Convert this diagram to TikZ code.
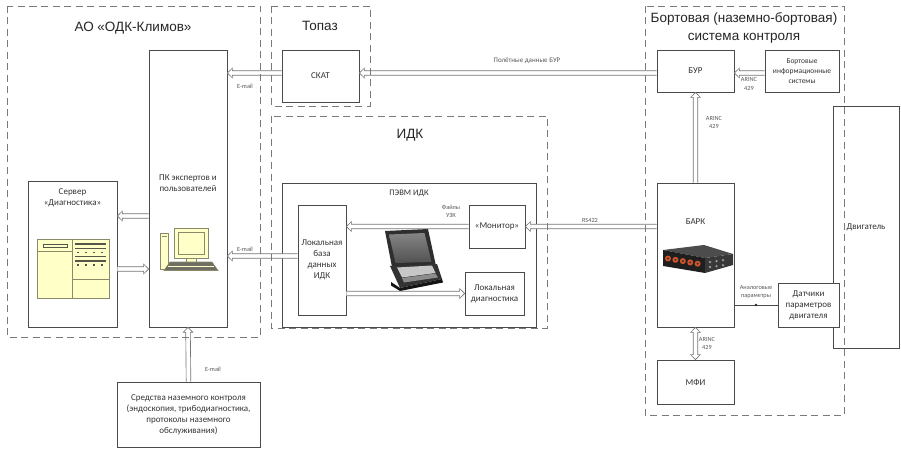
\documentclass[tikz,border=0pt]{standalone}
\usepackage{fontspec}
\setmainfont{Carlito}
\newfontfamily\titlefont{Liberation Sans}
\usetikzlibrary{calc}

\definecolor{edgegray}{HTML}{4A4A4A}
\definecolor{dashgray}{HTML}{7A7A7A}
\definecolor{arrowgray}{HTML}{767676}
\definecolor{iconfill}{HTML}{FFFFC8}
\definecolor{iconline}{HTML}{8A8A6A}
\definecolor{icondark}{HTML}{55554A}
\definecolor{plugorange}{HTML}{D0532A}

% hollow block arrow from #1 to #2 (head at #2)
\newcommand\hollowarrow[2]{%
  \path[harrow] let \p1=(#1), \p2=(#2), \n1={atan2(\y2-\y1,\x2-\x1)} in
    ($(\p1)+(\n1+90:2.3pt)$)
    -- ($(\p2)+(\n1+180:5pt)+(\n1+90:2.3pt)$)
    -- ($(\p2)+(\n1+180:5pt)+(\n1+90:4.8pt)$)
    -- (\p2)
    -- ($(\p2)+(\n1+180:5pt)+(\n1-90:4.8pt)$)
    -- ($(\p2)+(\n1+180:5pt)+(\n1-90:2.3pt)$)
    -- ($(\p1)+(\n1-90:2.3pt)$);}
% hollow block arrow with heads at both ends
\newcommand\hollowdarrow[2]{%
  \path[harrow] let \p1=(#1), \p2=(#2), \n1={atan2(\y2-\y1,\x2-\x1)} in
    (\p1)
    -- ($(\p1)+(\n1:5pt)+(\n1+90:4.8pt)$)
    -- ($(\p1)+(\n1:5pt)+(\n1+90:2.3pt)$)
    -- ($(\p2)+(\n1+180:5pt)+(\n1+90:2.3pt)$)
    -- ($(\p2)+(\n1+180:5pt)+(\n1+90:4.8pt)$)
    -- (\p2)
    -- ($(\p2)+(\n1+180:5pt)+(\n1-90:4.8pt)$)
    -- ($(\p2)+(\n1+180:5pt)+(\n1-90:2.3pt)$)
    -- ($(\p1)+(\n1:5pt)+(\n1-90:2.3pt)$)
    -- ($(\p1)+(\n1:5pt)+(\n1-90:4.8pt)$)
    -- cycle;}

\begin{document}
\begin{tikzpicture}[x=1pt,y=-1pt,
  box/.style={draw=edgegray, line width=0.7pt, inner sep=1pt, align=center,
    font=\fontsize{9}{11}\selectfont, text=black!80},
  txt/.style={inner sep=0pt, align=center, font=\fontsize{9}{11}\selectfont, text=black!80},
  smalltxt/.style={inner sep=0pt, align=center, font=\fontsize{6.3}{8.6}\selectfont, text=black!65},
  title/.style={inner sep=0pt, align=center, font=\titlefont\fontsize{13.5}{18}\selectfont, text=black!85},
  region/.style={draw=dashgray, line width=0.9pt, dash pattern=on 7pt off 4.5pt},
  harrow/.style={draw=arrowgray, fill=white, line width=0.65pt, line join=miter},
  icon/.style={draw=iconline, fill=iconfill, line width=0.6pt},
  iconbar/.style={draw=icondark, line width=1.1pt},
]
\useasboundingbox (0,0) rectangle (901,449);
\fill[white] (0,0) rectangle (901,449);

% ---------- АО «ОДК-Климов» ----------
\node[box, minimum width=78, minimum height=277] (pk) at (188,188.5) {};
\node[txt] (pktext) at (188,183.5) {ПК экспертов и\\пользователей};
\node[box, minimum width=89, minimum height=146] (server) at (72.5,254) {};
\node[txt] (servertext) at (72.5,197.5) {Сервер\\«Диагностика»};
\node[box, minimum width=143, minimum height=65] (ground) at (188.5,414.5)
  {Средства наземного контроля\\(эндоскопия, трибодиагностика,\\протоколы наземного\\обслуживания)};

% server window icon
\draw[icon] (37,239) rectangle (109,298);
\draw[icon] (72,239) -- (72,298);
\draw[icon] (37,251) -- (72,251);
\draw[draw=icondark, fill=iconfill, line width=0.5pt] (43,244) rectangle (67,247);
\draw[icon] (72,279) -- (109,279);
\draw[iconbar] (75,244) -- (106,244);
\draw[iconbar] (75,248.5) -- (106,248.5);
\draw[iconbar] (75,256.5) -- (106,256.5);
\draw[iconbar] (75,261) -- (106,261);
\foreach \x in {77,85,93,101} {
  \fill[icondark] (\x,251.5) rectangle ++(2.4,1.8);
  \fill[icondark] (\x,264) rectangle ++(2.4,1.8);
}

% desktop computer icon
\draw[icon] (160,233) rectangle (168,269);
\draw[iconline, line width=0.5pt] (161.5,236) -- (166.5,236);
\draw[icon] (174,228) rectangle (208,258);
\draw[icon] (178,232) rectangle (204,254);
\draw[icon] (186,258) rectangle (196,262);
\draw[draw=iconline, fill=icondark!85, line width=0.6pt]
  (170,262) -- (212,262) -- (218,270.5) -- (164,270.5) -- cycle;
\draw[draw=iconfill, line width=0.5pt] (168,266) -- (214,266);

% ---------- Топаз ----------
\node[box, minimum width=77, minimum height=52] (skat) at (320.5,76) {СКАТ};

% ---------- ИДК ----------
\node[box, minimum width=254, minimum height=144] (pevm) at (409,255) {};
\node[txt, font=\fontsize{8.5}{10}\selectfont] (pevmtext) at (409,193) {ПЭВМ ИДК};
\node[box, minimum width=48, minimum height=110] (lbase) at (322,260)
  {Локальная\\база\\данных\\ИДК};
\node[box, minimum width=56, minimum height=43] (monitor) at (497,226.5) {«Монитор»};
\node[box, minimum width=59, minimum height=43] (ldiag) at (494.5,293.5)
  {Локальная\\диагностика};

% rugged laptop
\fill[black!82] (385,231) -- (428,229) -- (436,266) -- (392,267) -- cycle;
\shade[top color=black!48, bottom color=black!68] (389,234.5) -- (424.5,233) -- (431.5,262) -- (395.5,263) -- cycle;
\fill[black!80] (390,266) -- (437,264) -- (442,279) -- (400,288) -- cycle;
\fill[black!22] (397,267.5) -- (432,265.5) -- (435.5,273) -- (402,277.5) -- cycle;
\fill[black!45] (402,278) -- (435.5,273.5) -- (438,277.5) -- (404,282.5) -- cycle;
\fill[black!92] (391,282) -- (400,288) -- (442,279) -- (443,282.5) -- (400,291) -- (391,285.5) -- cycle;

% ---------- Бортовая система ----------
\node[box, minimum width=77, minimum height=42] (bur) at (695.5,71) {БУР};
\node[box, minimum width=74, minimum height=42, font=\fontsize{7.5}{10}\selectfont] (bis) at (802,71)
  {Бортовые\\информационные\\системы};
\node[box, minimum width=66, minimum height=242] (engine) at (866,227) {Двигатель};
\node[box, minimum width=77, minimum height=144] (bark) at (695.5,255) {};
\node[txt] (barktext) at (695.5,222) {БАРК};
\node[box, minimum width=61, minimum height=44, fill=white] (sensors) at (808.5,305)
  {Датчики\\параметров\\двигателя};
\node[box, minimum width=77, minimum height=44] (mfi) at (695.5,382) {МФИ};

% recorder unit picture
\fill[black!70] (663,250) -- (704,245) -- (733,254) -- (705,258) -- cycle;
\fill[black!88] (663,250) -- (705,258) -- (705,273) -- (663,266) -- cycle;
\fill[black!78] (705,258) -- (733,254) -- (733,265) -- (705,273) -- cycle;
\foreach \i in {0,...,4} {
  \fill[plugorange] (668+7.4*\i,258.5+1.3*\i) circle (3);
  \fill[black!80] (668+7.4*\i,258.5+1.3*\i) circle (1.1);
}
\foreach \i in {0,1,2} {
  \fill[black!40] (710+6.5*\i,262-0.9*\i) circle (1.3);
  \fill[black!40] (710+6.5*\i,267-0.9*\i) circle (1.3);
}

% ---------- connectors ----------
\coordinate (row) at ([yshift=3pt]skat.west);
\hollowarrow{row}{pk.east |- row}
\hollowarrow{bur.west |- row}{skat.east |- row}
\hollowarrow{bis.west |- row}{bur.east |- row}
\hollowarrow{bark.north}{bur.south}

\coordinate (pkout) at ([yshift=-27.5pt]pk.west);
\hollowarrow{pkout}{server.east |- pkout}
\coordinate (srvout) at ([yshift=-15pt]server.east);
\hollowarrow{srvout}{pk.west |- srvout}
\coordinate (dbout) at ([yshift=4pt]lbase.west);
\hollowarrow{dbout}{pk.east |- dbout}
\hollowarrow{monitor.west}{lbase.east |- monitor.west}
\hollowarrow{bark.west |- monitor.east}{monitor.east}
\hollowarrow{lbase.east |- ldiag.west}{ldiag.west}
\hollowarrow{ground.north}{pk.south}
\hollowdarrow{bark.south}{mfi.north}

\draw[draw=edgegray, line width=0.7pt] (sensors.west) -- (bark.east |- sensors.west);
\fill[black!85] ($(sensors.west)!0.5!(bark.east |- sensors.west)$) circle (1.3);

% connector labels
\node[smalltxt] (mail1) at (245,86) {E-mail};
\node[smalltxt] (mail2) at (245,249) {E-mail};
\node[smalltxt] (mail3) at (213,369) {E-mail};
\node[smalltxt, font=\fontsize{7}{9}\selectfont] (flight) at (527,61) {Полётные данные БУР};
\node[smalltxt] (files) at (451,211.5) {Файлы\\УЗК};
\node[smalltxt] (rs) at (590,220) {RS422};
\node[smalltxt] (arinc1) at (749,84) {ARINC\\429};
\node[smalltxt] (arinc2) at (714,122.5) {ARINC\\429};
\node[smalltxt] (arinc3) at (707,343.5) {ARINC\\429};
\node[smalltxt] (analog) at (756,292) {Аналоговые\\параметры};

% ---------- organisation borders ----------
\draw[region] (7,6) rectangle (260,337);
\draw[region] (271,6) rectangle (370,106);
\draw[region] (271,116) rectangle (547,328);
\draw[region] (645,6) rectangle (844,415);

\node[title] (klimov) at (133,28.5) {АО «ОДК-Климов»};
\node[title] (topaz) at (320,25.5) {Топаз};
\node[title] (idk) at (410,135) {ИДК};
\node[title] (onboard) at (744,28) {Бортовая (наземно-бортовая)\\система контроля};
\end{tikzpicture}
\end{document}
